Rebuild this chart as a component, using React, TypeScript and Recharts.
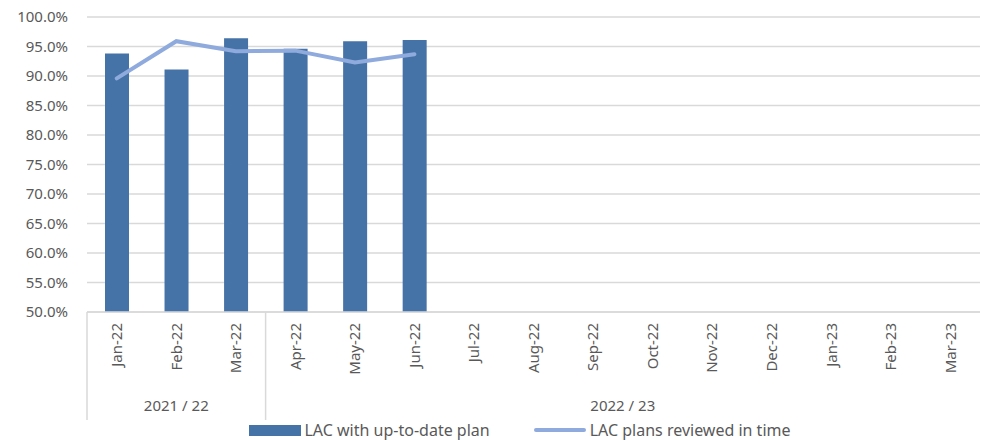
import { Bar, CartesianGrid, ComposedChart, Legend, Line, XAxis, YAxis } from 'recharts'

const months = [
    'Jan-22', 'Feb-22', 'Mar-22', 'Apr-22', 'May-22', 'Jun-22', 'Jul-22', 'Aug-22',
    'Sep-22', 'Oct-22', 'Nov-22', 'Dec-22', 'Jan-23', 'Feb-23', 'Mar-23',
]
const upToDatePlan = [93.8, 91.1, 96.4, 94.6, 95.9, 96.1]
const reviewedInTime = [89.6, 95.9, 94.2, 94.3, 92.3, 93.7]
const financialYears = ['2021 / 22', '2022 / 23']
const yearMonthCounts = [3, 12]
const yTicks = [50, 55, 60, 65, 70, 75, 80, 85, 90, 95, 100]

const W = 982
const H = 440
const M = { top: 17, right: 2, left: 0, bottom: 0 }
const Y_W = 87
const AXIS1_H = 73
const AXIS2_H = 35
const BAND = (W - M.left - M.right - Y_W) / months.length

const BAR_COLOR = '#4673A7'
const LINE_COLOR = '#8FAADC'
const TEXT = '#595959'
const GRID = '#D9D9D9'
const FONT = '"Noto Sans", sans-serif'
const FS = 15

const data = months.map((m, i) => ({
    month: m,
    plan: upToDatePlan[i] ?? null,
    reviewed: reviewedInTime[i] ?? null,
}))

// indices where a financial year starts
const groupStarts = yearMonthCounts.map((_, g) =>
    yearMonthCounts.slice(0, g).reduce((a, b) => a + b, 0)
)

function MonthTick(props: any) {
    const { x, y, index, payload } = props
    const axisY = y - 8
    const sep = groupStarts.includes(index)
    return (
        <g>
            {sep ? (
                <line
                    x1={x - BAND / 2}
                    x2={x - BAND / 2}
                    y1={axisY}
                    y2={axisY + 108}
                    stroke={GRID}
                    strokeWidth={1.5}
                />
            ) : null}
            <text
                x={x}
                y={axisY + 11}
                transform={`rotate(-90, ${x}, ${axisY + 11})`}
                textAnchor="end"
                dy="0.36em"
                fill={TEXT}
                fontSize={FS}
                fontFamily={FONT}
            >
                {payload.value}
            </text>
        </g>
    )
}

function YearTick(props: any) {
    const { x, y, index } = props
    const out: any[] = []
    yearMonthCounts.forEach((count, g) => {
        const mid = groupStarts[g] + (count - 1) / 2
        if (Math.floor(mid) === index) {
            out.push(
                <text
                    key={g}
                    x={x + (mid - index) * BAND}
                    y={y + 18}
                    textAnchor="middle"
                    fill={TEXT}
                    fontSize={FS}
                    fontFamily={FONT}
                >
                    {financialYears[g]}
                </text>
            )
        }
    })
    return <g>{out}</g>
}

function ChartLegend() {
    return (
        <div
            style={{
                display: 'flex',
                justifyContent: 'center',
                alignItems: 'center',
                paddingLeft: 60,
                fontFamily: FONT,
                fontSize: 16,
                color: TEXT,
                height: 20,
            }}
        >
            <span style={{ width: 52, height: 11, background: BAR_COLOR, marginRight: 3 }} />
            <span style={{ marginRight: 44 }}>LAC with up-to-date plan</span>
            <span style={{ width: 52, height: 4, borderRadius: 2, background: LINE_COLOR, marginRight: 4 }} />
            <span>LAC plans reviewed in time</span>
        </div>
    )
}

export default function App() {
    return (
        <div style={{ position: 'absolute', left: 0, top: 0, background: '#fff' }}>
            <ComposedChart width={W} height={H} data={data} margin={M} barSize={24}>
                <CartesianGrid vertical={false} stroke={GRID} strokeWidth={1.5} />
                <XAxis
                    dataKey="month"
                    interval={0}
                    tickLine={false}
                    axisLine={{ stroke: GRID, strokeWidth: 1.5 }}
                    height={AXIS1_H}
                    tick={<MonthTick />}
                />
                <XAxis
                    xAxisId="fy"
                    dataKey="month"
                    interval={0}
                    tickLine={false}
                    axisLine={false}
                    height={AXIS2_H}
                    tick={<YearTick />}
                />
                <YAxis
                    domain={[50, 100]}
                    ticks={yTicks}
                    width={Y_W}
                    axisLine={false}
                    tickLine={false}
                    tickMargin={13}
                    tickFormatter={(v: number) => `${v.toFixed(1)}%`}
                    tick={{ fill: TEXT, fontSize: FS, fontFamily: FONT }}
                />
                <Legend verticalAlign="bottom" height={20} content={<ChartLegend />} />
                <Bar dataKey="plan" fill={BAR_COLOR} isAnimationActive={false} />
                <Line
                    type="linear"
                    dataKey="reviewed"
                    stroke={LINE_COLOR}
                    strokeWidth={4}
                    strokeLinecap="round"
                    dot={false}
                    isAnimationActive={false}
                />
            </ComposedChart>
        </div>
    )
}
